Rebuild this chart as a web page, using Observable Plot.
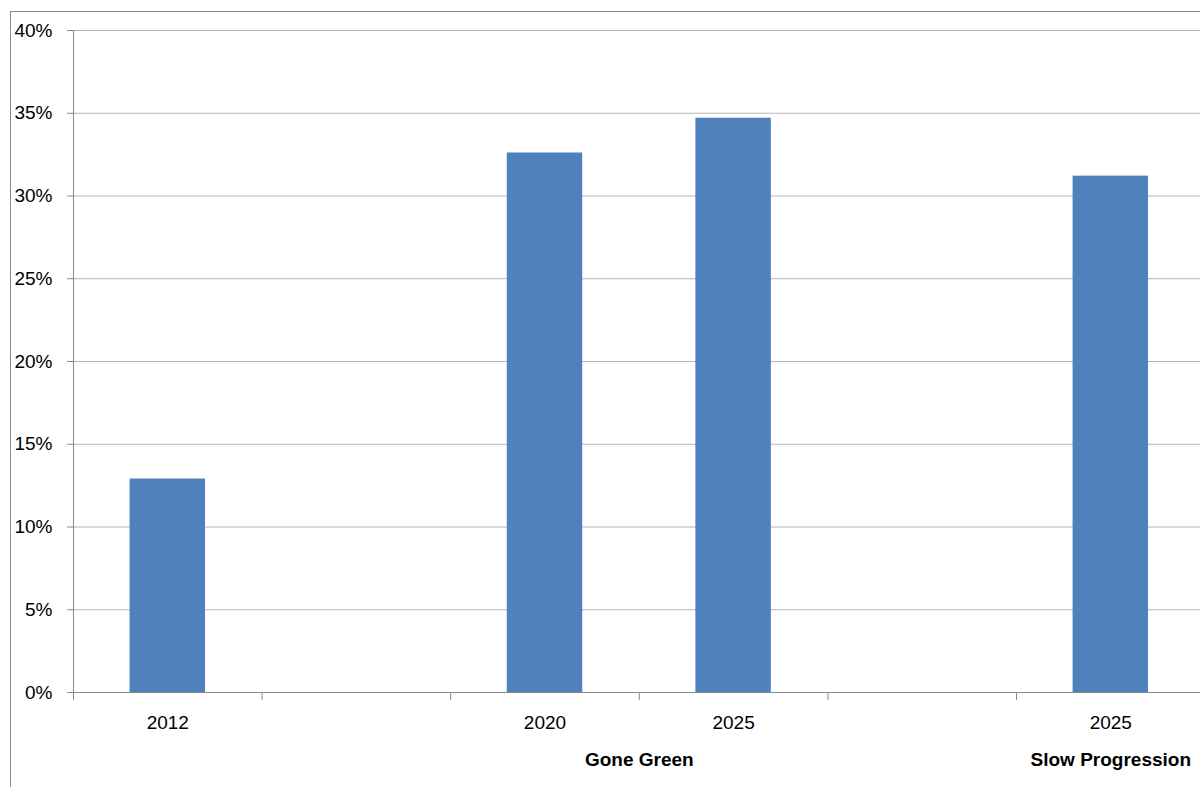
<!DOCTYPE html>
<html>
<head>
<meta charset="utf-8">
<script src="https://cdn.jsdelivr.net/npm/d3@7"></script>
<script src="https://cdn.jsdelivr.net/npm/@observablehq/plot@0.6"></script>
<style>
  html, body { margin: 0; padding: 0; background: #fff; overflow: hidden; }
  #wrap { position: relative; width: 1200px; height: 787px; overflow: hidden; }
  #frame { position: absolute; left: 10px; top: 11px; width: 1400px; height: 1000px; border: 1px solid #8a8a8a; }
  #chart { position: absolute; left: 0; top: 0; }
  #chart svg { font-family: "Liberation Sans", Arial, sans-serif; }
</style>
</head>
<body>
<div id="wrap">
  <div id="frame"></div>
  <div id="chart"></div>
</div>
<script>
// Category slots along the x axis (empty strings are spacer slots)
const categories = ["2012", "", "2020", "2025", "", "2025"];
// Share per slot, in percent
const shares = [12.9, null, 32.6, 34.7, null, 31.2];
// Scenario group each slot belongs to
const scenarios = ["", "", "Gone Green", "Gone Green", "", "Slow Progression"];
// Y axis tick values (percent)
const yTicks = [0, 5, 10, 15, 20, 25, 30, 35, 40];

const rows = categories.map((c, i) => ({slot: i, label: c, value: shares[i], scenario: scenarios[i]}));
const bars = rows.filter(d => d.value != null);
const labels = rows.filter(d => d.label !== "");

// Contiguous runs of the same scenario form one group label
const groups = [];
rows.forEach(d => {
  if (!d.scenario) return;
  const last = groups[groups.length - 1];
  if (last && last.name === d.scenario && last.end === d.slot) last.end = d.slot + 1;
  else groups.push({name: d.scenario, start: d.slot, end: d.slot + 1});
});

const boundaries = d3.range(categories.length + 1);

const chart = Plot.plot({
  width: 1200,
  height: 787,
  marginLeft: 73,
  marginRight: 0,
  marginTop: 30,
  marginBottom: 95,
  style: {background: "transparent", overflow: "visible"},
  x: {type: "linear", domain: [0, categories.length], range: [73, 73 + 188.6 * categories.length], axis: null},
  y: {domain: [0, 40], axis: null},
  marks: [
    Plot.gridY(yTicks, {stroke: "#b5b5b5", strokeOpacity: 1}),
    Plot.rectY(bars, {x1: d => d.slot + 0.3, x2: d => d.slot + 0.7, y: "value", fill: "#4f81bd"}),
    Plot.ruleY([0], {stroke: "#8a8a8a"}),
    Plot.ruleX([0], {y1: 0, y2: 40, stroke: "#8a8a8a"}),
    Plot.axisY(yTicks, {
      label: null,
      tickFormat: d => d + "%",
      tickSize: 6,
      tickPadding: 15,
      stroke: "#8a8a8a",
      fill: "#000",
      fontSize: 19
    }),
    Plot.axisX(boundaries, {label: null, tickSize: 8, tickFormat: () => "", stroke: "#8a8a8a"}),
    Plot.text(labels, {x: d => d.slot + 0.5, y: 0, text: "label", dy: 30, fontSize: 19, fill: "#000"}),
    Plot.text(groups, {x: d => (d.start + d.end) / 2, y: 0, text: "name", dy: 67, fontSize: 19, fontWeight: "bold", fill: "#000"})
  ]
});

document.getElementById("chart").appendChild(chart);
</script>
</body>
</html>
